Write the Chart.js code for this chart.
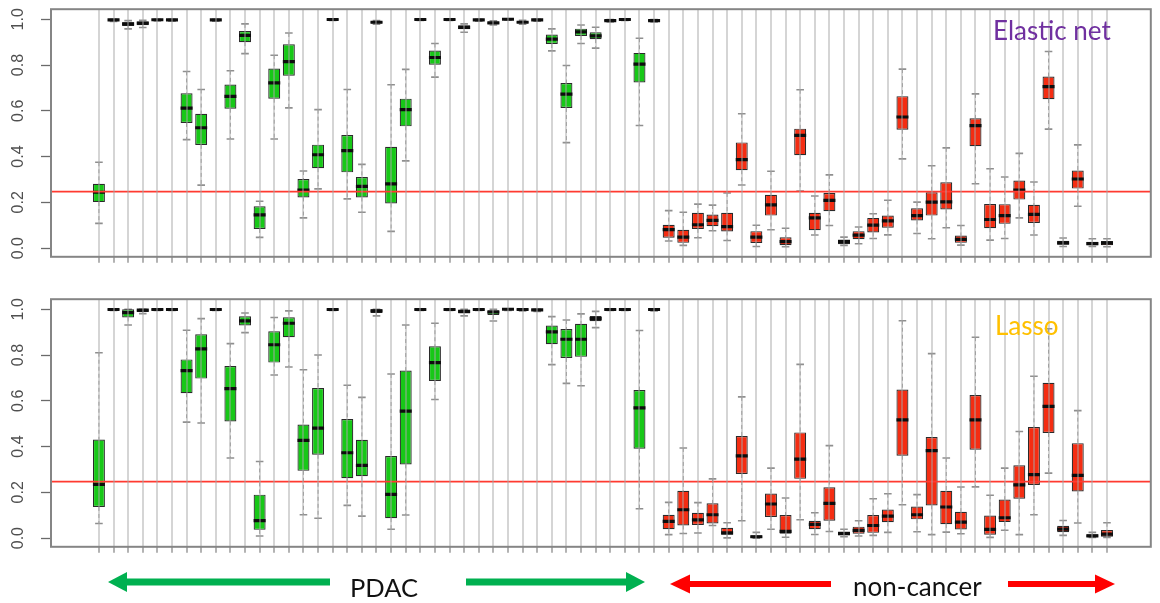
<!DOCTYPE html>
<html>
<head>
<meta charset="utf-8">
<script src="https://cdn.jsdelivr.net/npm/chart.js@4.4.1/dist/chart.umd.min.js"></script>
<style>
  html, body { margin: 0; padding: 0; background: #fff; }
  #wrap { position: relative; width: 1160px; height: 603px; overflow: hidden; background: #fff; }
  canvas { position: absolute; left: 0; }
  #overlay { position: absolute; left: 0; top: 0; pointer-events: none; }
</style>
</head>
<body>
<div id="wrap">
  <canvas id="enetChart" width="1160" height="266" style="top:0"></canvas>
  <canvas id="lassoChart" width="1160" height="266" style="top:290px"></canvas>
  <svg id="overlay" width="1160" height="603" xmlns="http://www.w3.org/2000/svg">
    <text x="993" y="40" font-family="Lato, 'Open Sans', sans-serif" font-size="26" fill="#7030a0">Elastic net</text>
    <text x="995" y="335" font-family="Lato, 'Open Sans', sans-serif" font-size="26" fill="#ffc000">Lasso</text>

    <!-- PDAC span -->
    <rect x="125" y="578.5" width="205" height="7" fill="#00b050"/>
    <polygon points="108,582 127,572 127,592" fill="#00b050"/>
    <rect x="466" y="578.5" width="162" height="7" fill="#00b050"/>
    <polygon points="645,582 626,572 626,592" fill="#00b050"/>
    <text x="350" y="597" font-family="Lato, 'Open Sans', sans-serif" font-size="25.5" fill="#111">PDAC</text>

    <!-- non-cancer span -->
    <rect x="688" y="581" width="143" height="6" fill="#ff0000"/>
    <polygon points="670,584 690,574.5 690,593.5" fill="#ff0000"/>
    <rect x="1008" y="581" width="89" height="6" fill="#ff0000"/>
    <polygon points="1115,584 1095,574.5 1095,593.5" fill="#ff0000"/>
    <text x="853" y="596" font-family="Lato, 'Open Sans', sans-serif" font-size="26" fill="#111">non-cancer</text>
  </svg>
</div>
<script>
// Samples: first the PDAC cases, then the non-cancer controls
const pdacCount = 39;
const nonCancerCount = 31;
const yTickValues = [0, 0.2, 0.4, 0.6, 0.8, 1.0];
const cutoff = 0.247;

// Elastic net: per-sample predicted probability distribution
const enetMin = [0.108,0.990,0.958,0.964,0.993,0.992,0.474,0.275,0.992,0.477,0.850,0.047,0.477,0.613,0.132,0.259,0.995,0.215,0.157,0.978,
  0.073,0.381,0.995,0.747,0.995,0.943,0.992,0.975,0.996,0.978,0.992,0.862,0.461,0.894,0.874,0.988,0.995,0.536,0.988,
  0.031,0.012,0.045,0.076,0.033,0.276,0.007,0.080,0.006,0.249,0.057,0.099,0.012,0.019,0.042,0.058,0.390,0.064,0.041,0.089,
  0.013,0.281,0.035,0.042,0.132,0.057,0.520,0.007,0.183,0.007,0.006];
const enetQ1 = [0.201,0.995,0.971,0.974,0.996,0.995,0.547,0.451,0.995,0.609,0.900,0.084,0.653,0.753,0.221,0.349,0.997,0.331,0.221,0.982,
  0.195,0.532,0.997,0.801,0.997,0.956,0.995,0.979,0.998,0.983,0.995,0.892,0.612,0.927,0.913,0.991,0.997,0.724,0.991,
  0.045,0.023,0.084,0.096,0.073,0.340,0.022,0.142,0.013,0.406,0.078,0.161,0.017,0.039,0.068,0.089,0.517,0.121,0.142,0.169,
  0.023,0.445,0.087,0.106,0.212,0.110,0.651,0.015,0.260,0.012,0.012];
const enetMedian = [0.244,0.997,0.980,0.983,0.998,0.997,0.612,0.526,0.997,0.663,0.930,0.145,0.722,0.815,0.254,0.408,0.999,0.426,0.270,0.987,
  0.281,0.605,0.999,0.833,0.999,0.965,0.997,0.984,1.000,0.987,0.997,0.913,0.673,0.945,0.927,0.994,0.999,0.804,0.994,
  0.081,0.048,0.102,0.121,0.094,0.387,0.048,0.189,0.028,0.493,0.132,0.209,0.028,0.057,0.100,0.119,0.573,0.142,0.201,0.202,
  0.038,0.535,0.125,0.142,0.253,0.147,0.706,0.023,0.302,0.020,0.022];
const enetQ3 = [0.281,0.999,0.987,0.990,0.999,0.999,0.677,0.587,0.999,0.715,0.949,0.183,0.785,0.891,0.302,0.452,1.000,0.494,0.311,0.991,
  0.443,0.653,1.000,0.863,1.000,0.974,0.999,0.989,1.000,0.991,0.999,0.933,0.721,0.959,0.943,0.997,1.000,0.853,0.997,
  0.102,0.080,0.154,0.147,0.154,0.462,0.074,0.233,0.047,0.522,0.154,0.241,0.038,0.074,0.132,0.142,0.664,0.174,0.244,0.288,
  0.055,0.567,0.193,0.192,0.295,0.189,0.750,0.032,0.339,0.028,0.031];
const enetMax = [0.375,1.000,0.994,0.995,1.000,1.000,0.772,0.693,1.000,0.775,0.980,0.205,0.843,0.940,0.337,0.605,1.000,0.693,0.366,0.994,
  0.714,0.781,1.000,0.894,1.000,0.980,1.000,0.993,1.000,0.995,1.000,0.958,0.798,0.975,0.965,0.999,1.000,0.917,0.999,
  0.164,0.157,0.192,0.188,0.241,0.587,0.100,0.336,0.087,0.692,0.228,0.320,0.048,0.092,0.150,0.209,0.782,0.201,0.360,0.438,
  0.099,0.674,0.347,0.311,0.414,0.289,0.859,0.044,0.451,0.041,0.041];

// Lasso: per-sample predicted probability distribution
const lassoMin = [0.064,0.995,0.931,0.981,0.995,0.995,0.507,0.503,0.995,0.350,0.898,0.009,0.713,0.748,0.102,0.087,0.995,0.143,0.096,0.971,
  0.039,0.101,0.995,0.606,0.995,0.971,0.995,0.949,0.995,0.993,0.990,0.758,0.676,0.666,0.920,0.995,0.995,0.128,0.993,
  0.015,0.020,0.022,0.055,0.001,0.076,0.000,0.039,0.004,0.080,0.016,0.029,0.006,0.009,0.012,0.025,0.146,0.028,0.015,0.026,
  0.019,0.224,0.003,0.034,0.015,0.102,0.284,0.012,0.066,0.003,0.003];
const lassoQ1 = [0.136,0.997,0.964,0.988,0.997,0.997,0.633,0.697,0.997,0.510,0.929,0.036,0.767,0.878,0.294,0.364,0.997,0.262,0.270,0.984,
  0.087,0.322,0.997,0.687,0.997,0.982,0.997,0.975,0.997,0.996,0.994,0.847,0.787,0.792,0.948,0.997,0.997,0.391,0.996,
  0.039,0.055,0.057,0.064,0.015,0.280,0.001,0.092,0.019,0.259,0.039,0.076,0.012,0.019,0.023,0.069,0.360,0.082,0.143,0.061,
  0.038,0.386,0.015,0.070,0.172,0.232,0.459,0.026,0.204,0.005,0.006];
const lassoMedian = [0.235,0.999,0.985,0.996,0.999,0.999,0.732,0.827,0.999,0.653,0.949,0.076,0.845,0.939,0.427,0.481,0.999,0.373,0.318,0.993,
  0.191,0.555,0.999,0.767,0.999,0.991,0.999,0.988,1.000,0.999,0.997,0.901,0.869,0.869,0.959,0.999,0.999,0.569,0.999,
  0.073,0.124,0.080,0.102,0.023,0.359,0.006,0.149,0.029,0.345,0.060,0.152,0.020,0.034,0.055,0.096,0.517,0.102,0.382,0.136,
  0.070,0.517,0.038,0.089,0.233,0.277,0.576,0.039,0.274,0.010,0.017];
const lassoQ3 = [0.431,1.000,1.000,1.000,1.000,1.000,0.781,0.891,1.000,0.752,0.969,0.190,0.904,0.965,0.496,0.656,1.000,0.520,0.430,1.000,
  0.359,0.732,1.000,0.838,1.000,0.998,1.000,0.996,1.000,1.000,1.000,0.929,0.914,0.937,0.971,1.000,1.000,0.647,1.000,
  0.102,0.207,0.111,0.152,0.045,0.446,0.012,0.195,0.101,0.462,0.076,0.222,0.029,0.050,0.101,0.125,0.649,0.138,0.442,0.207,
  0.115,0.625,0.099,0.169,0.318,0.485,0.679,0.054,0.415,0.017,0.035];
const lassoMax = [0.810,1.000,1.000,1.000,1.000,1.000,0.908,0.959,1.000,0.850,0.984,0.335,0.964,0.993,0.736,0.800,1.000,0.668,0.615,1.000,
  0.717,0.931,1.000,0.939,1.000,1.000,1.000,1.000,1.000,1.000,1.000,0.968,0.953,0.980,0.991,1.000,1.000,0.907,1.000,
  0.156,0.394,0.155,0.259,0.067,0.617,0.025,0.306,0.175,0.759,0.111,0.404,0.039,0.076,0.172,0.194,0.950,0.190,0.806,0.350,
  0.223,0.878,0.187,0.306,0.466,0.707,0.915,0.077,0.557,0.025,0.067];

// ---- drawing ----
const sampleCount = pdacCount + nonCancerCount;
const samplePos = Array.from({length: sampleCount}, (_, i) => i);
const xMin = -3.28, xMax = 72.0;
const yMin = -0.038, yMax = 1.044;
const pdacFill = '#17c817';
const nonCancerFill = '#f42d12';

const plotFrame = {
  id: 'plotFrame',
  afterDraw(chart) {
    const {ctx, chartArea: a} = chart;
    ctx.save();
    ctx.strokeStyle = '#858585';
    ctx.lineWidth = 2;
    ctx.strokeRect(a.left, a.top, a.right - a.left, a.bottom - a.top);
    ctx.restore();
  }
};

const verticalTickLabels = {
  id: 'verticalTickLabels',
  afterDraw(chart) {
    const {ctx} = chart;
    const y = chart.scales.y;
    ctx.save();
    ctx.fillStyle = '#4f4f4f';
    ctx.font = '16px "Liberation Sans", Arial, sans-serif';
    ctx.textAlign = 'center';
    ctx.textBaseline = 'middle';
    y.ticks.forEach(t => {
      ctx.save();
      ctx.translate(19, y.getPixelForValue(t.value));
      ctx.rotate(-Math.PI / 2);
      ctx.fillText(t.value.toFixed(1), 0, 0);
      ctx.restore();
    });
    ctx.restore();
  }
};

function boxPanel(canvasId, lo, q1, med, q3, hi) {
  const whiskers = [];
  samplePos.forEach(i => {
    whiskers.push({x: i, y: hi[i]}, {x: i, y: q3[i]}, {x: i, y: null},
                  {x: i, y: q1[i]}, {x: i, y: lo[i]}, {x: i, y: null});
  });
  const caps = [];
  samplePos.forEach(i => { caps.push({x: i, y: lo[i]}, {x: i, y: hi[i]}); });

  return new Chart(document.getElementById(canvasId), {
    type: 'bar',
    data: {
      datasets: [
        {
          type: 'line', order: 1,
          data: [{x: xMin, y: cutoff}, {x: xMax, y: cutoff}],
          borderColor: '#ff3a30', borderWidth: 1.6, pointRadius: 0
        },
        {
          type: 'scatter', order: 2,
          data: samplePos.map(i => ({x: i, y: med[i]})),
          pointStyle: 'line', pointRadius: 6, pointBorderWidth: 3.2,
          pointBorderColor: '#0d0d0d', pointBackgroundColor: '#0d0d0d'
        },
        {
          type: 'bar', order: 3,
          data: samplePos.map(i => ({x: i, y: [q1[i], q3[i]]})),
          backgroundColor: samplePos.map(i => i < pdacCount ? pdacFill : nonCancerFill),
          borderColor: '#2a2a2a', borderWidth: 1.2, borderSkipped: false,
          barPercentage: 0.82, categoryPercentage: 1, grouped: false
        },
        {
          type: 'scatter', order: 4,
          data: caps,
          pointStyle: 'line', pointRadius: 3.8, pointBorderWidth: 1.6,
          pointBorderColor: '#8f8f8f'
        },
        {
          type: 'line', order: 5,
          data: whiskers, spanGaps: false,
          borderColor: '#9a9a9a', borderWidth: 1, borderDash: [4, 3], pointRadius: 0
        }
      ]
    },
    options: {
      responsive: false,
      animation: false,
      events: [],
      devicePixelRatio: 1,
      layout: {padding: {top: 9, right: 6, left: 0, bottom: 0}},
      plugins: {legend: {display: false}, tooltip: {enabled: false}},
      scales: {
        x: {
          type: 'linear', min: xMin, max: xMax, offset: false,
          afterBuildTicks: s => { s.ticks = samplePos.map(v => ({value: v})); },
          afterFit: s => { s.height = 9; },
          ticks: {display: false, autoSkip: false},
          grid: {
            offset: false, z: 1, drawOnChartArea: true,
            color: 'rgba(168,168,168,0.48)', lineWidth: 2,
            drawTicks: true, tickLength: 6, tickColor: '#8a8a8a', tickWidth: 1.3
          },
          border: {display: false}
        },
        y: {
          type: 'linear', min: yMin, max: yMax, beginAtZero: false,
          afterBuildTicks: s => { s.ticks = yTickValues.map(v => ({value: v})); },
          afterFit: s => { s.width = 51; },
          ticks: {display: false},
          grid: {drawOnChartArea: false, drawTicks: true, tickLength: 10, tickColor: '#6a6a6a', tickWidth: 1.3},
          border: {display: false}
        }
      }
    },
    plugins: [plotFrame, verticalTickLabels]
  });
}

boxPanel('enetChart', enetMin, enetQ1, enetMedian, enetQ3, enetMax);
boxPanel('lassoChart', lassoMin, lassoQ1, lassoMedian, lassoQ3, lassoMax);
</script>
</body>
</html>
